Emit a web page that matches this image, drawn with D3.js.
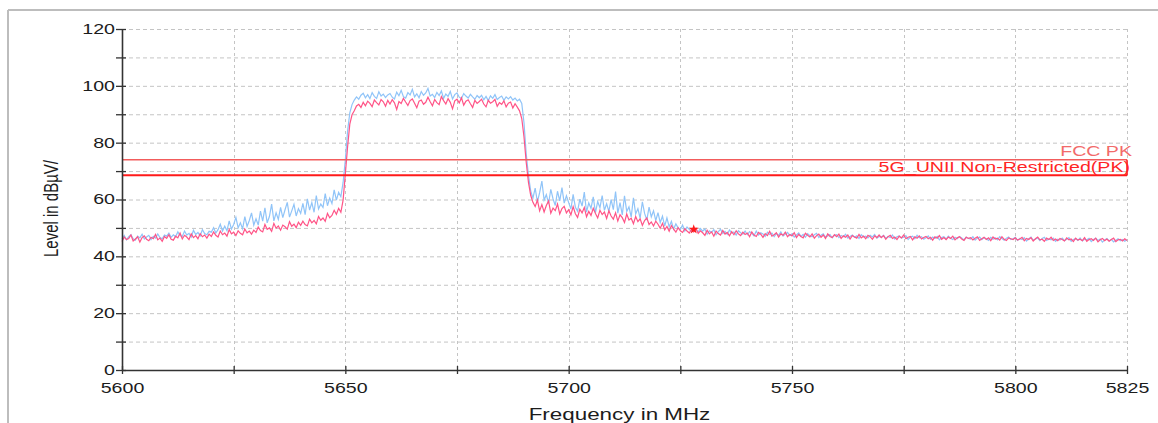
<!DOCTYPE html>
<html><head><meta charset="utf-8">
<script src="https://cdn.jsdelivr.net/npm/d3@7"></script>
<style>
body{margin:0;background:#fff;}
svg{display:block;font-family:"Liberation Sans",Arial,sans-serif;}
</style>
</head><body>
<svg id="chart" width="1158" height="423"></svg>
<script>
// ---- data ----
const freqStartMHz = 5600;
const freqStepMHz = 0.5;
// light-blue trace, dBµV, one value per 0.5 MHz from 5600 to 5825
const blueTrace = [
46.0,47.3,45.8,46.9,47.6,46.2,45.7,47.1,46.5,47.8,46.1,46.8,47.4,45.9,47.0,46.4,47.9,46.6,46.2,47.5,
47.1,48.2,46.7,47.6,46.9,48.6,47.3,47.0,48.9,47.5,48.1,46.8,49.2,47.7,48.4,47.2,49.4,48.0,47.6,48.8,
48.5,50.1,48.2,49.4,51.3,48.9,50.6,49.0,52.5,49.6,51.2,53.7,50.0,51.8,49.7,54.0,50.5,52.6,55.3,51.0,
53.2,51.0,55.9,52.4,57.1,51.8,54.0,58.4,52.5,55.3,53.0,57.2,53.6,56.4,59.0,53.8,56.0,58.3,54.2,56.8,
55.1,58.6,54.7,60.2,56.3,58.9,55.5,61.4,56.7,58.4,57.2,62.1,57.8,60.5,58.6,63.4,59.8,62.5,61.0,66.0,
74.0,84.0,90.5,93.4,95.0,96.1,95.3,96.7,97.4,95.8,96.9,95.5,97.6,96.3,95.6,97.9,96.4,97.1,95.9,96.8,
97.3,96.0,95.4,97.8,96.5,98.4,96.2,95.7,97.6,96.8,98.8,96.1,97.2,95.8,98.0,96.7,97.5,99.1,96.4,97.0,
95.9,97.7,96.6,98.2,95.6,97.1,96.3,98.0,95.4,96.9,97.5,96.0,95.5,97.3,96.4,95.7,97.0,96.1,95.3,96.6,
95.8,96.7,95.1,96.3,94.8,96.5,95.6,96.9,95.2,95.9,96.4,94.9,96.1,95.4,96.2,95.0,95.7,94.7,95.3,93.8,
87.0,76.0,68.5,63.0,60.5,64.0,59.2,62.4,66.5,59.8,61.7,58.6,63.6,60.2,57.9,62.9,59.5,64.2,58.7,61.3,
58.9,56.6,61.8,57.3,55.9,60.1,57.7,62.6,55.6,58.8,56.9,60.9,55.4,59.3,57.1,61.4,56.2,58.5,55.8,60.0,
56.4,62.8,55.2,58.9,54.6,61.3,55.8,57.4,53.8,60.6,54.9,56.8,53.4,59.2,55.1,52.8,57.3,53.9,56.0,52.6,
55.4,51.9,54.1,50.6,53.5,50.4,52.3,49.6,51.4,50.0,49.4,51.0,48.9,50.3,49.5,48.7,50.1,49.2,48.6,49.8,
48.9,49.6,47.8,49.0,48.4,49.4,47.6,48.7,49.5,48.0,48.8,47.7,49.3,48.2,48.6,47.5,49.0,48.3,47.8,48.9,
47.6,48.7,48.1,47.2,48.9,47.5,48.3,47.9,47.0,48.5,47.7,48.2,46.9,48.0,47.4,48.6,47.1,47.8,48.4,47.3,
47.9,46.8,47.5,48.2,47.0,47.7,46.7,48.0,47.3,46.9,47.6,48.1,46.6,47.4,47.9,46.8,47.2,47.7,46.5,47.4,
47.6,46.6,47.3,46.9,47.8,46.4,47.0,47.5,46.7,47.2,46.3,47.6,46.9,47.1,46.5,47.4,46.8,47.7,46.4,47.0,
46.8,47.4,46.3,47.0,46.6,47.5,46.1,46.9,47.2,46.4,46.7,47.3,45.9,46.8,47.1,46.2,47.4,46.5,46.9,46.0,
46.5,47.2,46.0,46.8,46.3,47.0,45.8,46.6,46.9,46.1,47.1,46.4,45.9,46.7,46.2,47.0,46.5,45.8,46.8,46.3,
46.1,46.9,45.7,46.4,46.8,45.9,46.6,46.2,45.6,46.7,46.0,46.5,45.8,46.9,46.3,45.7,46.4,46.8,45.9,46.2,
46.7,45.6,46.3,45.9,46.6,45.4,46.2,46.8,45.7,46.0,46.5,45.5,46.3,46.7,45.6,46.1,45.8,46.4,45.3,46.0,
45.7,46.4,45.5,46.0,46.6,45.3,45.9,46.2,45.6,46.5,45.4,46.0,45.8,46.3,45.2,45.9,46.4,45.6,46.1,45.0,
45.8,46.3,45.4,46.0,45.1,45.7,46.2,45.5,45.9,45.3,45.8
];
// pink trace, dBµV, same frequency grid
const pinkTrace = [
45.2,46.8,45.9,46.3,47.5,45.4,46.1,46.9,45.0,46.6,47.2,46.0,45.5,46.7,46.2,47.7,45.8,46.4,45.3,47.0,
46.3,47.6,46.0,45.7,47.1,46.5,48.2,46.1,47.4,46.8,45.9,47.9,46.6,47.3,46.2,48.0,46.9,47.5,46.4,47.8,
47.0,48.6,47.4,46.8,48.9,47.6,48.2,47.1,49.4,47.9,48.5,47.3,49.0,48.1,47.6,49.6,48.3,48.9,47.8,49.2,
48.4,50.3,49.1,48.6,51.2,49.5,50.0,48.8,51.6,49.9,50.7,49.2,51.0,50.4,49.6,52.2,50.6,51.3,50.1,52.0,
50.9,52.4,51.2,50.7,53.1,51.8,52.6,51.4,54.0,52.7,53.5,52.3,55.1,53.6,54.4,56.2,54.8,56.9,55.5,59.8,
69.0,78.5,86.5,89.8,91.2,92.9,93.5,92.4,94.2,93.0,94.6,93.8,92.7,95.0,94.1,93.3,95.2,94.4,92.8,94.9,
93.6,95.1,94.0,91.7,94.5,93.8,95.6,94.3,93.1,94.8,95.4,93.9,92.3,94.6,95.0,93.5,94.2,96.0,94.4,93.0,
95.2,94.1,93.4,96.2,94.8,93.6,95.5,94.2,91.9,94.7,95.3,94.0,95.8,93.2,94.6,95.1,93.7,92.4,94.9,93.8,
94.5,95.3,93.6,92.6,94.9,93.9,94.4,95.2,92.8,94.1,93.5,94.7,92.6,93.9,94.3,92.2,93.7,92.5,91.2,88.5,
82.0,73.0,66.0,61.5,59.0,57.5,59.8,56.0,58.2,55.6,57.9,59.5,55.2,57.0,56.1,58.4,54.9,56.8,57.6,55.3,
56.4,54.6,57.5,55.0,53.7,56.6,55.3,57.2,53.9,55.8,54.4,56.9,55.1,53.5,56.2,54.7,55.6,53.3,56.0,54.2,
53.1,55.3,52.4,54.6,53.6,51.9,54.9,52.8,53.4,51.5,54.0,52.2,53.2,50.9,52.6,53.5,51.2,52.1,50.7,52.4,
51.3,49.9,51.6,49.3,50.5,48.8,50.8,49.6,48.5,50.1,49.0,48.4,49.7,48.9,48.2,49.5,48.6,49.9,48.1,49.0,
48.3,47.4,49.2,47.9,48.6,47.1,48.9,48.0,47.5,49.1,47.8,48.4,47.2,48.7,47.6,49.0,47.9,47.3,48.5,47.7,
48.2,46.9,48.6,47.5,47.0,48.4,47.8,46.7,48.0,47.3,48.8,47.1,47.6,48.3,46.8,47.9,47.4,48.5,46.9,47.7,
47.2,48.3,46.6,47.7,47.0,46.5,48.1,47.4,46.8,47.9,46.4,47.3,47.8,46.7,47.5,46.3,47.9,47.0,46.6,47.6,
46.9,47.8,46.3,47.2,46.7,47.5,46.1,47.3,46.8,46.4,47.7,46.5,47.1,46.2,47.4,46.9,46.0,47.2,46.6,47.5,
46.6,47.3,46.0,46.9,47.4,46.3,46.8,45.9,47.1,46.5,47.5,46.2,46.7,47.0,45.8,46.9,46.4,47.2,46.1,46.6,
47.0,46.2,46.7,45.7,46.9,46.4,47.3,46.0,46.6,45.9,46.8,46.3,47.1,45.8,46.5,46.9,46.1,45.6,46.7,46.3,
46.6,45.8,46.4,46.9,45.6,46.2,46.7,45.9,46.5,45.5,46.8,46.1,46.4,45.7,46.9,46.0,45.6,46.5,46.2,45.9,
46.5,45.7,46.1,46.7,45.5,46.3,45.9,46.6,45.4,46.2,46.8,45.8,46.0,45.3,46.4,45.9,46.7,45.6,46.1,45.5,
46.3,45.9,45.4,46.5,45.8,46.1,45.2,46.4,45.7,46.0,45.5,46.6,45.3,45.9,46.2,45.6,46.4,45.1,45.8,46.3,
45.5,46.1,45.3,45.9,46.4,45.2,45.8,46.0,45.4,46.2,45.6
];
const xTickValues = [5600,5625,5650,5675,5700,5725,5750,5775,5800,5825];
const xTickLabels = [5600,5650,5700,5750,5800,5825];
const yTickValues = [0,10,20,30,40,50,60,70,80,90,100,110,120];
const yTickLabels = [0,20,40,60,80,100,120];
const limitNames = ["FCC PK","5G_UNII Non-Restricted(PK)"];
const limitLevels = [74, 68.5];
const markerFreq = [5728];
const markerLevel = [49.5];
const xTitle = "Frequency in MHz";
const yTitle = "Level in dBµV/";

// ---- drawing ----
const SX = 1.4; // horizontal glyph stretch seen in the reference
const svg = d3.select("#chart");
const x = d3.scaleLinear().domain([5600,5825]).range([122,1127]);
const y = d3.scaleLinear().domain([0,120]).range([370,29]);
const freqs = blueTrace.map((_, i) => freqStartMHz + i*freqStepMHz);

// outer frame
svg.append("line").attr("x1",8).attr("y1",10).attr("x2",1158).attr("y2",10)
  .attr("stroke","#bdbdbd").attr("stroke-width",2);
svg.append("line").attr("x1",8).attr("y1",10).attr("x2",8).attr("y2",423)
  .attr("stroke","#bdbdbd").attr("stroke-width",2);

// grid
svg.append("g").selectAll("line").data(yTickValues.filter(v => v>0)).join("line")
  .attr("x1",x(5600)).attr("x2",x(5825)).attr("y1",d=>y(d)+0.5).attr("y2",d=>y(d)+0.5)
  .attr("stroke","#c4c4c4").attr("stroke-dasharray","4,3");
svg.append("g").selectAll("line").data(xTickValues.filter(v => v>5600)).join("line")
  .attr("y1",y(120)).attr("y2",y(0)).attr("x1",d=>Math.round(x(d))+0.5).attr("x2",d=>Math.round(x(d))+0.5)
  .attr("stroke","#c4c4c4").attr("stroke-dasharray","3,3");

// traces
const lineGen = d3.line().x((d,i)=>x(freqs[i])).y(d=>y(d));
svg.append("path").datum(blueTrace).attr("d",lineGen)
  .attr("fill","none").attr("stroke","#90c4f8").attr("stroke-width",1.2);
svg.append("path").datum(pinkTrace).attr("d",lineGen)
  .attr("fill","none").attr("stroke","#ff5487").attr("stroke-width",1.2);

// limit lines
const limitColors = ["#f25c5c","#ff1a1a"];
const limitWidths = [1.6,2];
svg.append("g").selectAll("line").data(limitLevels).join("line")
  .attr("x1",x(5600)).attr("x2",x(5825)).attr("y1",d=>y(d)).attr("y2",d=>y(d))
  .attr("stroke",(d,i)=>limitColors[i]).attr("stroke-width",(d,i)=>limitWidths[i]);
svg.append("line").attr("x1",x(5825)).attr("x2",x(5825))
  .attr("y1",y(limitLevels[0])).attr("y2",y(limitLevels[1]))
  .attr("stroke","#ff1a1a").attr("stroke-width",1.5);
const limitLabelPos = [[1132, y(limitLevels[0])-3.5],[1130, y(limitLevels[1])-3]];
const limitTextColors = ["#f26a6a","#ff2525"];
svg.append("g").selectAll("text").data(limitNames).join("text")
  .attr("transform",(d,i)=>`translate(${limitLabelPos[i][0]},${limitLabelPos[i][1]}) scale(${SX},1)`)
  .attr("text-anchor","end").attr("font-size",14)
  .attr("fill",(d,i)=>limitTextColors[i]).text(d=>d);

// axes
const yAxis = d3.axisLeft(y).tickValues(yTickValues).tickSizeInner(6).tickSizeOuter(0)
  .tickFormat(d => yTickLabels.includes(d) ? d : "");
const gy = svg.append("g").attr("transform",`translate(${x(5600)},0)`).call(yAxis)
  .attr("font-size",14).attr("font-family","'Liberation Sans',Arial,sans-serif");
gy.select(".domain").attr("stroke","#333").attr("stroke-width",1.6);
gy.selectAll(".tick line").attr("x1",4).attr("x2",-6).attr("stroke","#333").attr("stroke-width",1.3);
gy.selectAll(".tick text").attr("x",-7/SX).attr("transform",`scale(${SX},1)`).attr("fill","#1c1c1c");

const xAxis = d3.axisBottom(x).tickValues(xTickValues).tickSizeInner(4).tickSizeOuter(0)
  .tickFormat(d => xTickLabels.includes(d) ? d : "");
const gx = svg.append("g").attr("transform",`translate(0,${y(0)})`).call(xAxis)
  .attr("font-size",14).attr("font-family","'Liberation Sans',Arial,sans-serif");
gx.select(".domain").attr("stroke","#333").attr("stroke-width",1.6);
gx.selectAll(".tick line").attr("y1",-4).attr("y2",4).attr("stroke","#333").attr("stroke-width",1.3);
gx.selectAll(".tick text").attr("y",13).attr("transform",`scale(${SX},1)`).attr("fill","#1c1c1c");

// marker
svg.append("g").selectAll("path").data(markerFreq).join("path")
  .attr("transform",(d,i)=>`translate(${x(d)},${y(markerLevel[i])})`)
  .attr("d",d3.symbol(d3.symbolStar,30)).attr("fill","#ff1a1a");

// titles
svg.append("text").attr("transform",`translate(619.5,420) scale(${SX},1)`)
  .attr("text-anchor","middle").attr("font-size",16).attr("fill","#1c1c1c").text(xTitle);
svg.append("text").attr("transform",`translate(58,208.5) scale(${SX},1) rotate(-90)`)
  .attr("text-anchor","middle").attr("font-size",15).attr("fill","#1c1c1c").text(yTitle);
</script>
</body></html>
